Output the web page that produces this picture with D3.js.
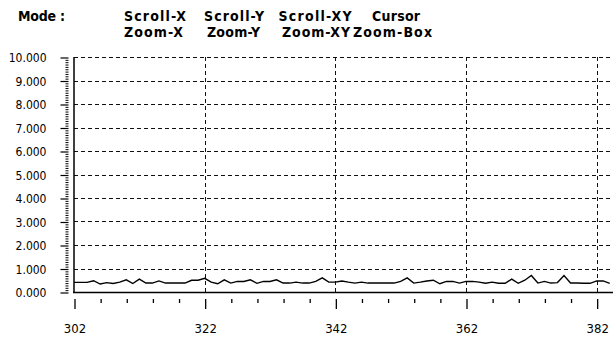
<!DOCTYPE html>
<html><head><meta charset="utf-8">
<script src="https://cdn.jsdelivr.net/npm/d3@7"></script>
<style>
html,body{margin:0;padding:0;background:#fff;overflow:hidden;}
text{font-family:"DejaVu Sans Condensed","DejaVu Sans",sans-serif;font-stretch:condensed;fill:#000;}
</style></head>
<body><svg id="c" width="613" height="338"></svg>
<script>
const xStart = 302;
const yValues = [0.41,0.41,0.41,0.48,0.34,0.40,0.36,0.42,0.52,0.36,
  0.55,0.38,0.38,0.47,0.38,0.38,0.38,0.38,0.50,0.50,
  0.58,0.42,0.35,0.52,0.38,0.45,0.45,0.52,0.37,0.45,
  0.45,0.52,0.38,0.38,0.42,0.38,0.38,0.45,0.60,0.42,
  0.42,0.47,0.42,0.38,0.42,0.38,0.38,0.38,0.38,0.38,
  0.45,0.60,0.38,0.42,0.47,0.50,0.35,0.45,0.45,0.38,
  0.45,0.45,0.42,0.37,0.42,0.37,0.37,0.55,0.37,0.50,
  0.70,0.38,0.45,0.38,0.40,0.70,0.38,0.38,0.37,0.37,
  0.47,0.47,0.37];
const xMajorTicks = [302,322,342,362,382];
const xMinorTicks = d3.range(302,386,4).filter(v=>!xMajorTicks.includes(v));
const yTicks = [0,1,2,3,4,5,6,7,8,9,10];
const yMinorTicks = d3.range(0,100).map(i=>i/10).filter(v=>v%1!==0);
const modeLabel = "Mode :";
const modeRow1 = ["Scroll-X","Scroll-Y","Scroll-XY","Cursor"];
const modeRow2 = ["Zoom-X","Zoom-Y","Zoom-XY","Zoom-Box"];

const svg = d3.select("#c");
const x = d3.scaleLinear().domain([302,384.5]).range([74,613]);
const y = d3.scaleLinear().domain([0,10]).range([292,57]);
const fmt = d3.format(",.3f");

// header
svg.append("text").attr("x",18).attr("y",21).attr("font-weight","bold").attr("font-size",14)
  .attr("textLength",47).attr("lengthAdjust","spacing").text(modeLabel);
const c1 = [155,234,315,396], c2 = [153.5,233.5,316,392.5];
const w1 = [62,60,73,48], w2 = [59,53,68,79];
modeRow1.forEach((t,i)=>svg.append("text").attr("x",c1[i]).attr("y",21).attr("text-anchor","middle")
  .attr("font-weight","bold").attr("font-size",14).attr("textLength",w1[i]).attr("lengthAdjust","spacing").text(t));
modeRow2.forEach((t,i)=>svg.append("text").attr("x",c2[i]).attr("y",37).attr("text-anchor","middle")
  .attr("font-weight","bold").attr("font-size",14).attr("textLength",w2[i]).attr("lengthAdjust","spacing").text(t));

// grid
const g = svg.append("g");
g.selectAll("line.hg").data(yTicks.filter(v=>v>0)).join("line").attr("class","hg")
  .attr("x1",74).attr("x2",613).attr("y1",d=>Math.round(y(d))+0.5).attr("y2",d=>Math.round(y(d))+0.5)
  .attr("stroke","#111").attr("stroke-dasharray","4,3");
g.selectAll("line.vg").data(xMajorTicks.filter(v=>v>302)).join("line").attr("class","vg")
  .attr("y1",57).attr("y2",292).attr("x1",d=>Math.round(x(d))+0.5).attr("x2",d=>Math.round(x(d))+0.5)
  .attr("stroke","#111").attr("stroke-dasharray","4,3");
g.append("line").attr("x1",74).attr("x2",74).attr("y1",57).attr("y2",293).attr("stroke","#000").attr("stroke-width",1.5);
g.append("line").attr("x1",73).attr("x2",613).attr("y1",292.5).attr("y2",292.5).attr("stroke","#000").attr("stroke-width",1.5);

// y axis (offset to the left of the plot)
const yMinorAxis = svg.append("g").attr("transform","translate(68.5,0.5)")
  .call(d3.axisLeft(y).tickValues(yMinorTicks).tickSize(3).tickFormat(""));
yMinorAxis.select(".domain").remove();
const yAxis = svg.append("g").attr("transform","translate(68.5,0.5)")
  .call(d3.axisLeft(y).tickValues(yTicks).tickSize(8).tickPadding(14).tickFormat(fmt));
yAxis.select(".domain").remove();
yAxis.selectAll("text").attr("font-size",12).attr("font-family",null).attr("dy","0.36em");
yMinorAxis.selectAll(".tick line").attr("stroke","#000").attr("stroke-width",1);
yAxis.selectAll(".tick line").attr("stroke","#000").attr("stroke-width",1.2);

// x axis (offset below the plot)
const xMinorAxis = svg.append("g").attr("transform","translate(0.5,299)")
  .call(d3.axisBottom(x).tickValues(xMinorTicks).tickSize(4).tickFormat(""));
xMinorAxis.select(".domain").remove();
const xAxis = svg.append("g").attr("transform","translate(0.5,299)")
  .call(d3.axisBottom(x).tickValues(xMajorTicks).tickSize(10).tickPadding(15).tickFormat(d=>d));
xAxis.select(".domain").remove();
xAxis.selectAll("text").attr("font-size",13).attr("font-family",null);
xMinorAxis.selectAll(".tick line").attr("stroke","#000").attr("stroke-width",1.3);
xAxis.selectAll(".tick line").attr("stroke","#000").attr("stroke-width",1.3);

// data line
const line = d3.line().x((d,i)=>x(xStart+i)).y(d=>y(d));
svg.append("path").datum(yValues).attr("d",line).attr("fill","none").attr("stroke","#000").attr("stroke-width",1.4);
</script></body></html>
